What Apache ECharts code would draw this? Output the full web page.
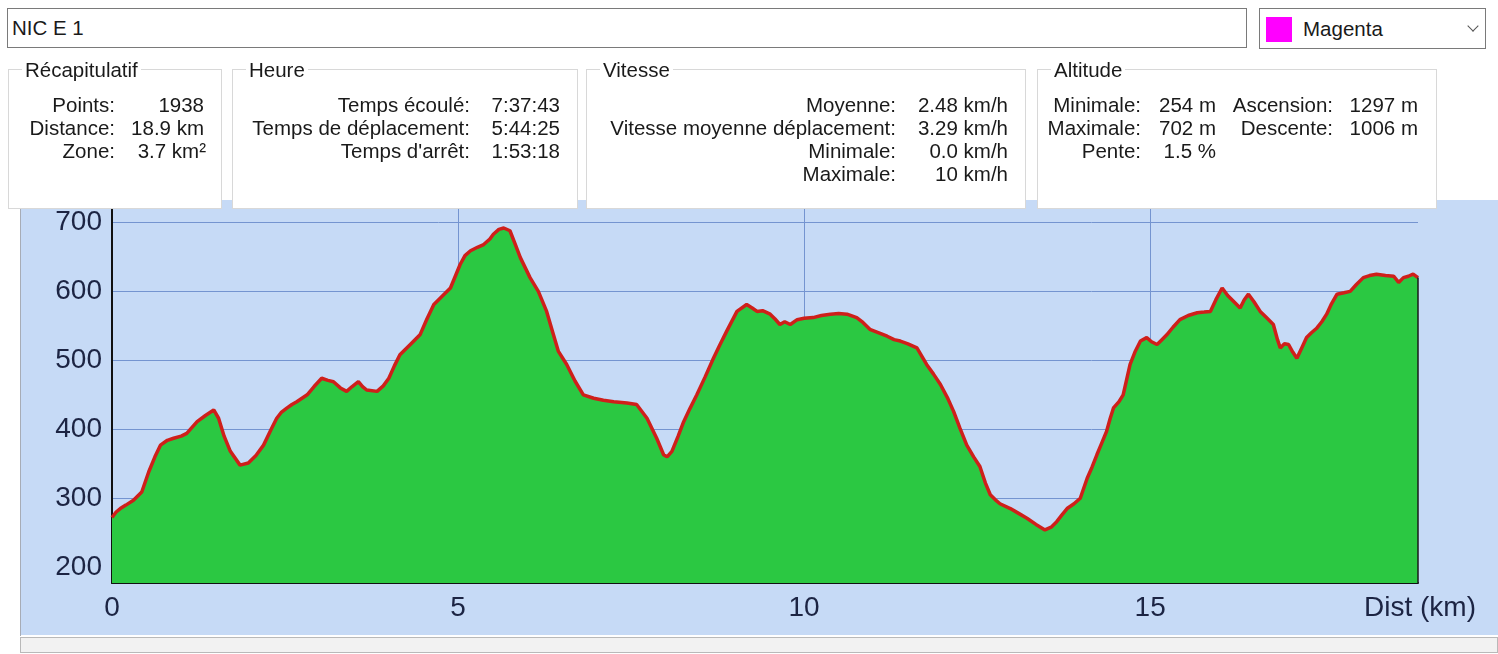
<!DOCTYPE html>
<html>
<head>
<meta charset="utf-8">
<script src="https://cdn.jsdelivr.net/npm/echarts@6/dist/echarts.min.js"></script>
<style>
  body { margin: 0; width: 1498px; height: 654px; background: #fff; overflow: hidden;
         font-family: "Liberation Sans", Arial, sans-serif; font-size: 20.5px; color: #1a1a1a; }
  .abs { position: absolute; }
  .edit { left: 7px; top: 8px; width: 1234px; height: 38px; border: 1px solid #7a7a7a; background: #fff;
          line-height: 38px; padding-left: 4px; box-sizing: content-box; }
  .combo { left: 1259px; top: 8px; width: 225px; height: 39px; border: 1px solid #7a7a7a; background: #fff; }
  .swatch { left: 6px; top: 8px; width: 26px; height: 25px; background: #ff00ff; }
  .combo .txt { left: 43px; top: 0; line-height: 39px; }
  .chev { left: 209px; top: 13px; width: 7px; height: 7px; border-right: 1.5px solid #555;
          border-bottom: 1.5px solid #555; transform: rotate(45deg); }
  .box { top: 69px; height: 138px; border: 1px solid #d8d8d8; background: #fff; z-index: 2; }
  .box .title { left: 13px; top: -12px; padding: 0 3px; background: #fff; line-height: 24px; }
  .r { position: absolute; left: 0; text-align: right; white-space: nowrap; line-height: 24px; }
  #chart { position: absolute; left: 20px; top: 200px; width: 1478px; height: 435px; background: #c6daf6; }
  .vline { left: 20px; top: 200px; width: 1px; height: 436px; background: #a7acb6; z-index: 1; }
  .bar { left: 20px; top: 637px; width: 1476px; height: 14px; border: 1px solid #b9b9b9; background: #f2f2f2; }
</style>
</head>
<body>
<div class="abs edit">NIC E 1</div>
<div class="abs combo">
  <div class="abs swatch"></div>
  <div class="abs txt">Magenta</div>
  <div class="abs chev"></div>
</div>

<div class="abs box" style="left:8px;width:212px;">
  <div class="abs title">Récapitulatif</div>
  <div class="r" style="top:23px;width:106px;">Points:</div>
  <div class="r" style="top:23px;width:195px;">1938</div>
  <div class="r" style="top:46px;width:106px;">Distance:</div>
  <div class="r" style="top:46px;width:195px;">18.9 km</div>
  <div class="r" style="top:69px;width:106px;">Zone:</div>
  <div class="r" style="top:69px;width:197px;">3.7 km²</div>
</div>

<div class="abs box" style="left:232px;width:344px;">
  <div class="abs title">Heure</div>
  <div class="r" style="top:23px;width:237px;">Temps écoulé:</div>
  <div class="r" style="top:23px;width:327px;">7:37:43</div>
  <div class="r" style="top:46px;width:237px;">Temps de déplacement:</div>
  <div class="r" style="top:46px;width:327px;">5:44:25</div>
  <div class="r" style="top:69px;width:237px;">Temps d'arrêt:</div>
  <div class="r" style="top:69px;width:327px;">1:53:18</div>
</div>

<div class="abs box" style="left:586px;width:438px;">
  <div class="abs title">Vitesse</div>
  <div class="r" style="top:23px;width:309px;">Moyenne:</div>
  <div class="r" style="top:23px;width:421px;">2.48 km/h</div>
  <div class="r" style="top:46px;width:309px;">Vitesse moyenne déplacement:</div>
  <div class="r" style="top:46px;width:421px;">3.29 km/h</div>
  <div class="r" style="top:69px;width:309px;">Minimale:</div>
  <div class="r" style="top:69px;width:421px;">0.0 km/h</div>
  <div class="r" style="top:92px;width:309px;">Maximale:</div>
  <div class="r" style="top:92px;width:421px;">10 km/h</div>
</div>

<div class="abs box" style="left:1037px;width:398px;">
  <div class="abs title">Altitude</div>
  <div class="r" style="top:23px;width:103px;">Minimale:</div>
  <div class="r" style="top:23px;width:178px;">254 m</div>
  <div class="r" style="top:23px;width:295px;">Ascension:</div>
  <div class="r" style="top:23px;width:380px;">1297 m</div>
  <div class="r" style="top:46px;width:103px;">Maximale:</div>
  <div class="r" style="top:46px;width:178px;">702 m</div>
  <div class="r" style="top:46px;width:295px;">Descente:</div>
  <div class="r" style="top:46px;width:380px;">1006 m</div>
  <div class="r" style="top:69px;width:103px;">Pente:</div>
  <div class="r" style="top:69px;width:178px;">1.5 %</div>
</div>

<div id="chart"></div>
<div class="abs vline"></div>
<div class="abs bar"></div>

<script>
// distance (km) and altitude (m)
const dist = [
  0.00, 0.06, 0.12, 0.20, 0.31, 0.43, 0.53, 0.62, 0.70, 0.80, 0.89, 1.00, 1.08, 1.23, 1.35, 1.47,
  1.54, 1.62, 1.71, 1.85, 1.97, 2.08, 2.19, 2.30, 2.38, 2.45, 2.53, 2.60, 2.67, 2.82, 2.92, 3.03,
  3.12, 3.20, 3.30, 3.39, 3.47, 3.56, 3.62, 3.68, 3.83, 3.92, 4.00, 4.08, 4.16, 4.31, 4.45, 4.55,
  4.65, 4.77, 4.89, 5.03, 5.10, 5.18, 5.28, 5.37, 5.46, 5.51, 5.59, 5.66, 5.75, 5.82, 5.90, 6.04,
  6.16, 6.28, 6.37, 6.45, 6.57, 6.69, 6.81, 6.96, 7.10, 7.25, 7.44, 7.58, 7.73, 7.87, 7.97, 8.02,
  8.09, 8.18, 8.26, 8.35, 8.45, 8.57, 8.69, 8.78, 8.88, 9.03, 9.17, 9.25, 9.32, 9.40, 9.51, 9.58,
  9.65, 9.72, 9.80, 9.90, 10.00, 10.13, 10.25, 10.38, 10.50, 10.62, 10.76, 10.85, 10.95, 11.08, 11.20, 11.30,
  11.39, 11.50, 11.63, 11.70, 11.77, 11.87, 11.97, 12.07, 12.16, 12.25, 12.35, 12.45, 12.54, 12.62, 12.69, 12.76,
  12.83, 12.98, 13.10, 13.22, 13.35, 13.48, 13.57, 13.65, 13.72, 13.80, 13.90, 13.99, 14.09, 14.16, 14.23, 14.30,
  14.37, 14.42, 14.47, 14.55, 14.61, 14.66, 14.71, 14.78, 14.86, 14.95, 15.02, 15.10, 15.17, 15.24, 15.33, 15.43,
  15.55, 15.68, 15.78, 15.87, 15.95, 16.04, 16.12, 16.20, 16.30, 16.36, 16.42, 16.50, 16.59, 16.68, 16.78, 16.84,
  16.88, 16.94, 17.00, 17.06, 17.12, 17.19, 17.26, 17.33, 17.41, 17.48, 17.55, 17.62, 17.70, 17.80, 17.89, 17.98,
  18.08, 18.17, 18.27, 18.40, 18.52, 18.59, 18.66, 18.73, 18.80, 18.87
];
const alt = [
  272, 280, 285, 290, 297, 309, 338, 360, 377, 384, 387, 390, 394, 411, 420, 428,
  416, 390, 368, 348, 351, 362, 377, 400, 416, 425, 431, 436, 440, 450, 462, 474,
  471, 469, 460, 455, 462, 469, 462, 457, 455, 463, 474, 492, 508, 523, 537, 560,
  581, 593, 605, 639, 652, 659, 664, 668, 676, 683, 690, 692, 688, 670, 649, 620,
  600, 571, 540, 513, 494, 470, 450, 445, 442, 440, 438, 436, 416, 387, 363, 360,
  368, 390, 411, 430, 450, 476, 503, 522, 542, 571, 581, 576, 571, 572, 567, 560,
  552, 556, 552, 559, 561, 562, 565, 567, 568, 567, 562, 555, 545, 540, 535, 530,
  528, 524, 518, 506, 494, 480, 465, 446, 426, 402, 377, 360, 346, 322, 305, 298,
  292, 285, 278, 271, 262, 254, 258, 266, 275, 285, 292, 300, 329, 345, 363, 380,
  397, 415, 431, 440, 450, 472, 494, 512, 528, 533, 527, 523, 530, 537, 548, 559,
  565, 569, 570, 571, 588, 605, 594, 586, 576, 588, 596, 585, 571, 562, 552, 530,
  518, 524, 523, 512, 503, 518, 533, 540, 547, 556, 567, 582, 596, 598, 600, 610,
  620, 623, 625, 623, 622, 613, 620, 622, 625, 620
];
const yTicks = [200, 300, 400, 500, 600, 700];
const xTicks = [0, 5, 10, 15];

const yMin = 177, yMax = 721;
const lastX = dist[dist.length - 1];
const lastY = alt[alt.length - 1];

const myChart = echarts.init(document.getElementById("chart"));
const labelFont = {
  fontFamily: '"Liberation Sans", Arial',
  fontSize: 28,
  color: "#1c2443",
};
myChart.setOption({
  animation: false,
  grid: { left: 92, right: 80, top: 8, bottom: 52 },
  xAxis: {
    type: "value",
    min: 0,
    max: lastX,
    interval: 5,
    name: "Dist (km)",
    nameLocation: "end",
    nameGap: 2,
    nameTextStyle: Object.assign({}, labelFont, {
      align: "center",
      verticalAlign: "top",
      padding: [11, 0, 0, 0],
    }),
    axisLine: { lineStyle: { color: "#111", width: 2 } },
    axisTick: { show: false },
    axisLabel: Object.assign({}, labelFont, {
      margin: 11,
      showMaxLabel: false,
      formatter: (v) => (xTicks.indexOf(v) >= 0 ? String(v) : ""),
    }),
    splitLine: {
      show: true,
      showMinLine: false,
      showMaxLine: false,
      lineStyle: { color: "#7494d0", width: 1 },
    },
  },
  yAxis: {
    type: "value",
    min: yMin,
    max: yMax,
    minInterval: 100,
    maxInterval: 100,
    axisLine: { show: true, lineStyle: { color: "#111", width: 2 } },
    axisTick: { show: false },
    axisLabel: Object.assign({}, labelFont, {
      margin: 10,
      showMinLabel: false,
      showMaxLabel: false,
      formatter: (v) => (yTicks.indexOf(v) >= 0 ? String(v) : ""),
    }),
    splitLine: {
      show: true,
      showMinLine: false,
      showMaxLine: false,
      lineStyle: { color: "#7494d0", width: 1 },
    },
  },
  series: [
    {
      type: "line",
      data: dist.map((d, i) => [d, alt[i]]),
      showSymbol: false,
      smooth: false,
      lineStyle: { color: "#cf1f1a", width: 3.5 },
      areaStyle: { color: "#2bc842", opacity: 1, origin: "start" },
      markLine: {
        silent: true,
        symbol: "none",
        label: { show: false },
        lineStyle: { color: "#1a1a1a", width: 1.5, type: "solid" },
        data: [[{ coord: [lastX, yMin] }, { coord: [lastX, lastY] }]],
      },
    },
  ],
});
</script>
</body>
</html>
